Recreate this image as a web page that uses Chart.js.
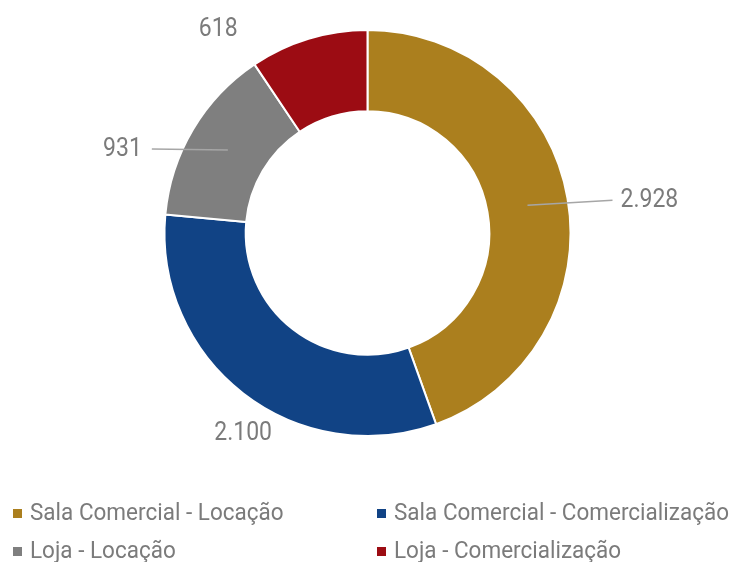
<!DOCTYPE html>
<html lang="pt-BR">

<head>
    <meta charset="UTF-8">
    <title>Imóveis por tipo</title>
    <script src="https://cdn.jsdelivr.net/npm/chart.js"></script>
    <style>
        html, body {
            margin: 0;
            padding: 0;
            background: #ffffff;
        }

        #wrap {
            width: 735px;
            height: 562px;
        }
    </style>
</head>

<body>
    <div id="wrap">
        <canvas id="donut" width="735" height="562"></canvas>
    </div>

    <script>
        // categories and values
        const categories = [
            'Sala Comercial - Locação',
            'Sala Comercial - Comercialização',
            'Loja - Locação',
            'Loja - Comercialização'
        ];
        const values = [2928, 2100, 931, 618];
        const valueLabels = ['2.928', '2.100', '931', '618'];
        const colors = ['#AB7F1E', '#114385', '#7F7F7F', '#9C0C13'];

        const textGray = '#7b7b7b';
        const font = '"Roboto", "Liberation Sans", sans-serif';

        // where each value label sits relative to its slice centre
        const labelPlacement = [
            { dx: 93, dy: -5, align: 'left', line: true },
            { dx: -25, dy: 72, align: 'center', line: false },
            { dx: -86, dy: -1, align: 'right', line: true },
            { dx: -102, dy: -48, align: 'center', line: false }
        ];

        // text is drawn slightly taller than wide
        function tallText(ctx, str, x, y, sy) {
            ctx.save();
            ctx.translate(x, y);
            ctx.scale(1, sy);
            ctx.fillText(str, 0, 0);
            ctx.restore();
        }

        const valueLabelPlugin = {
            id: 'valueLabels',
            afterDatasetsDraw(chart) {
                const ctx = chart.ctx;
                const meta = chart.getDatasetMeta(0);
                ctx.save();
                ctx.font = '23px ' + font;
                ctx.textBaseline = 'middle';
                meta.data.forEach((arc, i) => {
                    const p = arc.getProps(['x', 'y', 'startAngle', 'endAngle', 'innerRadius', 'outerRadius'], true);
                    const mid = (p.startAngle + p.endAngle) / 2;
                    const r = (p.innerRadius + p.outerRadius) / 2;
                    const cx = p.x + Math.cos(mid) * r;
                    const cy = p.y + Math.sin(mid) * r;
                    const place = labelPlacement[i];
                    const tx = cx + place.dx;
                    const ty = cy + place.dy;
                    if (place.line) {
                        const gap = place.align === 'left' ? -8 : 10;
                        ctx.strokeStyle = '#a6a6a6';
                        ctx.lineWidth = 1.5;
                        ctx.beginPath();
                        ctx.moveTo(cx, cy);
                        ctx.lineTo(tx + gap, ty);
                        ctx.stroke();
                    }
                    ctx.fillStyle = textGray;
                    ctx.textAlign = place.align;
                    tallText(ctx, valueLabels[i], tx, ty, 1.12);
                });
                ctx.restore();
            }
        };

        // two-column legend under the ring
        const legendPlugin = {
            id: 'twoColLegend',
            afterDraw(chart) {
                const ctx = chart.ctx;
                const colX = [13, 377];
                const rowY = [514, 552];
                ctx.save();
                ctx.font = '22.5px ' + font;
                ctx.textBaseline = 'middle';
                ctx.textAlign = 'left';
                categories.forEach((name, i) => {
                    const x = colX[i % 2];
                    const y = rowY[Math.floor(i / 2)];
                    ctx.fillStyle = colors[i];
                    ctx.fillRect(x, y - 5, 9, 9);
                    ctx.fillStyle = textGray;
                    tallText(ctx, name, x + 17, y, 1.1);
                });
                ctx.restore();
            }
        };

        new Chart(document.getElementById('donut'), {
            type: 'doughnut',
            data: {
                labels: categories,
                datasets: [{
                    data: values,
                    backgroundColor: colors,
                    borderColor: '#ffffff',
                    borderWidth: 2
                }]
            },
            options: {
                responsive: false,
                animation: false,
                cutout: '60%',
                layout: {
                    padding: { top: 29, bottom: 125, left: 0, right: 0 }
                },
                plugins: {
                    legend: { display: false },
                    tooltip: { enabled: false }
                }
            },
            plugins: [valueLabelPlugin, legendPlugin]
        });
    </script>
</body>

</html>
